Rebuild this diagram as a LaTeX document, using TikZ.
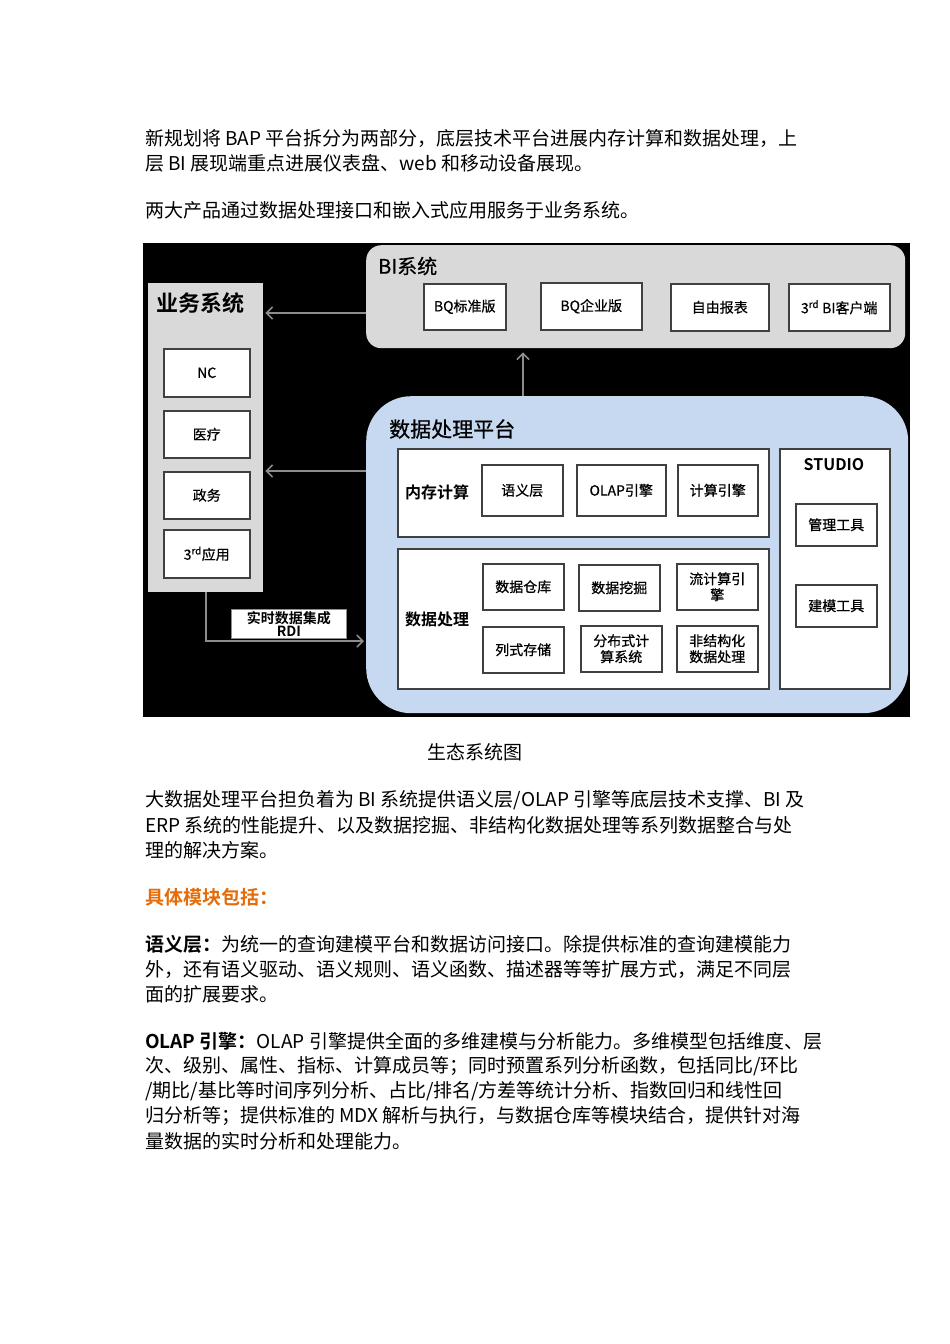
\documentclass[tikz,border=0pt]{standalone}
\usepackage{fontspec}
\setmainfont{Noto Sans CJK SC}[BoldFont={Noto Sans CJK SC Bold}]
\newfontfamily\diagfont{Noto Sans CJK SC}[FakeBold=0.6]
\usetikzlibrary{arrows.meta}
\definecolor{panelgray}{HTML}{D9D9D9}
\definecolor{panelblue}{HTML}{C6D9F0}
\definecolor{boxline}{HTML}{404040}
\definecolor{arrowgray}{HTML}{8C8C8C}
\definecolor{headorange}{HTML}{E46C0A}

\begin{document}
\begin{tikzpicture}[x=1pt, y=-1pt, >={Straight Barb[length=6pt, width=12pt]},
    body/.style={anchor=west, inner sep=0pt, font=\fontsize{19}{25}\selectfont},
    box/.style={draw=boxline, line width=1.5pt, fill=white, anchor=north west,
        inner sep=1pt, align=center, font=\diagfont\fontsize{14}{16}\selectfont},
    panel/.style={anchor=north west, inner sep=0pt},
    title/.style={anchor=west, inner sep=0pt},
    link/.style={->, draw=arrowgray, line width=1.6pt}]
    \fill[white] (0,0) rectangle (950,1344);
    \useasboundingbox (0,0) rectangle (950,1344);

    % Text above the diagram
    \node[body] (l1) at (145,138) {新规划将 BAP 平台拆分为两部分，底层技术平台进展内存计算和数据处理，上};
    \node[body] (l2) at (145,163) {层 BI 展现端重点进展仪表盘、web 和移动设备展现。};
    \node[body] (l3) at (145,210) {两大产品通过数据处理接口和嵌入式应用服务于业务系统。};

    % Diagram background
    \node[panel, fill=black, minimum width=767pt, minimum height=474pt] (bg) at (143,243) {};

    % BI system
    \node[panel, fill=panelgray, rounded corners=15pt, minimum width=539pt, minimum height=103pt] (bi) at (366,245) {};
    \node[title, font=\diagfont\fontsize{20}{22}\selectfont] (bititle) at (378,266) {BI系统};
    \node[box, minimum width=82pt, minimum height=46pt] (bqstd) at (423,283) {BQ标准版};
    \node[box, minimum width=101pt, minimum height=47pt] (bqent) at (540,282) {BQ企业版};
    \node[box, minimum width=98pt, minimum height=47pt] (report) at (670,283) {自由报表};
    \node[box, minimum width=101pt, minimum height=47pt] (client) at (788,283) {3\textsuperscript{rd} BI客户端};

    % Business systems
    \node[panel, fill=panelgray, minimum width=115pt, minimum height=309pt] (yw) at (148,283) {};
    \node[title, font=\bfseries\fontsize{22}{24}\selectfont] (ywtitle) at (156,303) {业务系统};
    \node[box, minimum width=86pt, minimum height=48pt] (nc) at (163,348) {NC};
    \node[box, minimum width=86pt, minimum height=47pt] (med) at (163,410) {医疗};
    \node[box, minimum width=86pt, minimum height=47pt] (gov) at (163,471) {政务};
    \node[box, minimum width=86pt, minimum height=48pt] (app) at (163,529) {3\textsuperscript{rd}应用};

    % Data processing platform
    \node[panel, fill=panelblue, rounded corners=45pt, minimum width=542pt, minimum height=317pt] (dp) at (366,396) {};
    \node[title, font=\diagfont\fontsize{21}{23}\selectfont] (dptitle) at (389,429) {数据处理平台};

    \node[box, minimum width=371pt, minimum height=88pt] (mem) at (397,448) {};
    \node[font=\bfseries\fontsize{16}{18}\selectfont] (memlabel) at (437,492) {内存计算};
    \node[box, minimum width=81pt, minimum height=51pt] (sem) at (481,464) {语义层};
    \node[box, minimum width=89pt, minimum height=51pt] (olap) at (576,464) {OLAP引擎};
    \node[box, minimum width=80pt, minimum height=51pt] (calc) at (677,464) {计算引擎};

    \node[box, minimum width=371pt, minimum height=140pt] (proc) at (397,548) {};
    \node[font=\bfseries\fontsize{16}{18}\selectfont] (proclabel) at (437,619) {数据处理};
    \node[box, minimum width=81pt, minimum height=46pt] (dw) at (482,563) {数据仓库};
    \node[box, minimum width=81pt, minimum height=46pt] (dm) at (578,564) {数据挖掘};
    \node[box, minimum width=81pt, minimum height=46pt] (stream) at (676,563) {流计算引\\擎};
    \node[box, minimum width=81pt, minimum height=46pt] (col) at (482,626) {列式存储};
    \node[box, minimum width=81pt, minimum height=46pt] (dist) at (580,625) {分布式计\\算系统};
    \node[box, minimum width=81pt, minimum height=46pt] (unstr) at (676,625) {非结构化\\数据处理};

    \node[box, minimum width=110pt, minimum height=240pt] (studio) at (779,448) {};
    \node[font=\bfseries\fontsize{16}{18}\selectfont] (studiotitle) at (834,465) {STUDIO};
    \node[box, minimum width=81pt, minimum height=42pt] (mgmt) at (795,503) {管理工具};
    \node[box, minimum width=81pt, minimum height=42pt] (model) at (795,584) {建模工具};

    % Connectors
    \draw[link, shorten >=2pt] (bi.west |- 0,313) -- (yw.east |- 0,313);
    \draw[link, shorten >=2pt] (dp.west |- 0,471) -- (yw.east |- 0,471);
    \draw[link, shorten >=4pt] (dp.north -| 523,0) -- (bi.south -| 523,0);
    \draw[link, shorten >=2pt] (yw.south -| 206,0) |- (dp.west |- 0,641);
    \node[panel, fill=white, draw=arrowgray, line width=0.8pt, minimum width=115pt, minimum height=29pt,
        align=center, font=\bfseries\fontsize{14}{13}\selectfont] (rdi) at (231,609) {实时数据集成\\RDI};

    % Text below the diagram
    \node[font=\fontsize{19}{25}\selectfont, inner sep=0pt] (caption) at (475,752) {生态系统图};
    \node[body] (l4) at (145,800) {大数据处理平台担负着为 BI 系统提供语义层/OLAP 引擎等底层技术支撑、BI 及};
    \node[body] (l5) at (145,825) {ERP 系统的性能提升、以及数据挖掘、非结构化数据处理等系列数据整合与处};
    \node[body] (l6) at (145,850) {理的解决方案。};
    \node[body, text=headorange, font=\bfseries\fontsize{19}{25}\selectfont] (head) at (145,897) {具体模块包括：};
    \node[body] (l7) at (145,944) {\textbf{语义层：}为统一的查询建模平台和数据访问接口。除提供标准的查询建模能力};
    \node[body] (l8) at (145,969) {外，还有语义驱动、语义规则、语义函数、描述器等等扩展方式，满足不同层};
    \node[body] (l9) at (145,994) {面的扩展要求。};
    \node[body] (l10) at (145,1041) {\textbf{OLAP 引擎：}OLAP 引擎提供全面的多维建模与分析能力。多维模型包括维度、层};
    \node[body] (l11) at (145,1066) {次、级别、属性、指标、计算成员等；同时预置系列分析函数，包括同比/环比};
    \node[body] (l12) at (145,1091) {/期比/基比等时间序列分析、占比/排名/方差等统计分析、指数回归和线性回};
    \node[body] (l13) at (145,1116) {归分析等；提供标准的 MDX 解析与执行，与数据仓库等模块结合，提供针对海};
    \node[body] (l14) at (145,1141) {量数据的实时分析和处理能力。};
\end{tikzpicture}
\end{document}
